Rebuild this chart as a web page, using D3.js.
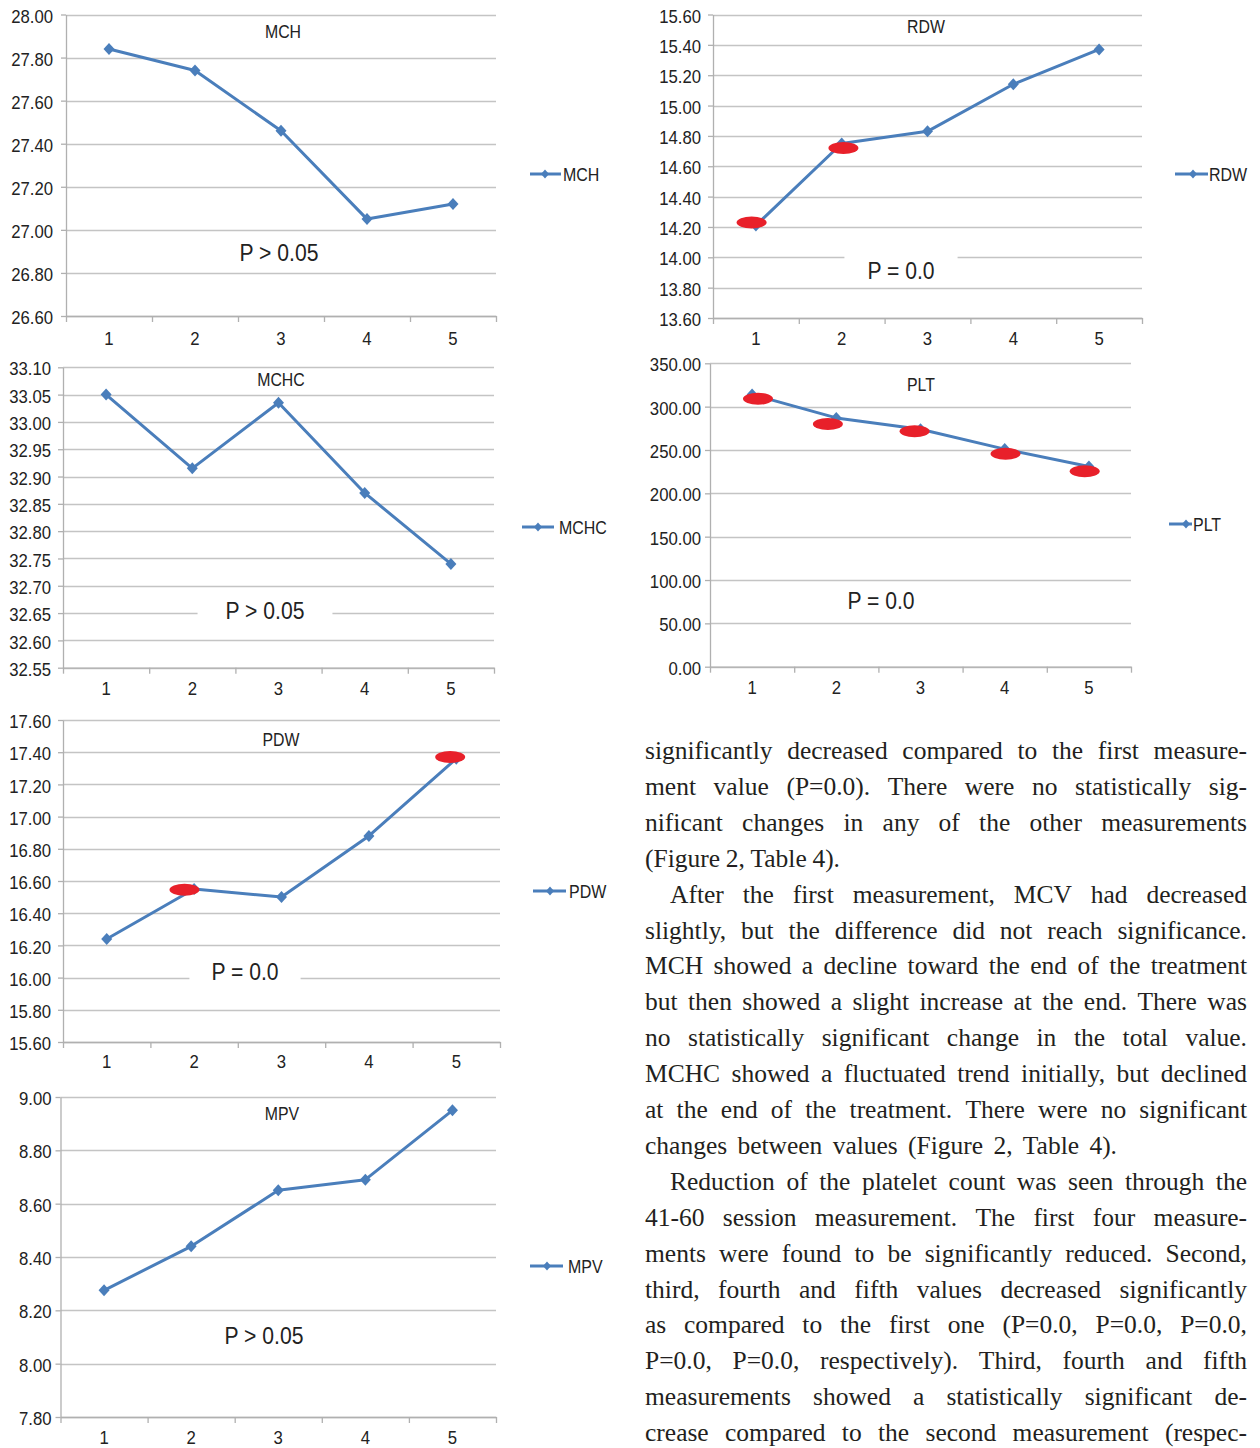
<!DOCTYPE html>
<html><head><meta charset="utf-8">
<script src="https://cdn.jsdelivr.net/npm/d3@7"></script>
<style>body{margin:0;background:#fff} svg{display:block}</style>
</head><body>
<svg id="fig" width="1260" height="1448"></svg>
<script>
// ---------- data ----------
const categories = [1, 2, 3, 4, 5];

const mchValues  = [27.84, 27.74, 27.46, 27.05, 27.12];
const mchTicks   = [26.6, 26.8, 27.0, 27.2, 27.4, 27.6, 27.8, 28.0];

const rdwValues  = [14.21, 14.75, 14.83, 15.14, 15.37];
const rdwTicks   = [13.6, 13.8, 14.0, 14.2, 14.4, 14.6, 14.8, 15.0, 15.2, 15.4, 15.6];
const rdwSigX    = [0.95, 2.02];
const rdwSigY    = [14.23, 14.72];

const mchcValues = [33.05, 32.915, 33.035, 32.87, 32.74];
const mchcTicks  = [32.55, 32.60, 32.65, 32.70, 32.75, 32.80, 32.85, 32.90, 32.95, 33.00, 33.05, 33.10];

const pltValues  = [314, 287, 274, 251, 231];
const pltTicks   = [0, 50, 100, 150, 200, 250, 300, 350];
const pltSigX    = [1.07, 1.90, 2.93, 4.01, 4.95];
const pltSigY    = [309, 280, 271.5, 245.7, 225.4];

const pdwValues  = [16.24, 16.55, 16.50, 16.88, 17.36];
const pdwTicks   = [15.6, 15.8, 16.0, 16.2, 16.4, 16.6, 16.8, 17.0, 17.2, 17.4, 17.6];
const pdwSigX    = [1.89, 4.93];
const pdwSigY    = [16.545, 17.37];

const mpvValues  = [8.275, 8.44, 8.65, 8.69, 8.95];
const mpvTicks   = [7.8, 8.0, 8.2, 8.4, 8.6, 8.8, 9.0];

const seriesNames = ["MCH", "RDW", "MCHC", "PLT", "PDW", "MPV"];
const pLabels     = ["P > 0.05", "P = 0.0", "P > 0.05", "P = 0.0", "P = 0.0", "P > 0.05"];

const textLines = [
  "significantly decreased compared to the first measure-",
  "ment value (P=0.0). There were no statistically sig-",
  "nificant changes in any of the other measurements",
  "(Figure 2, Table 4).",
  "After the first measurement, MCV had decreased",
  "slightly, but the difference did not reach significance.",
  "MCH showed a decline toward the end of the treatment",
  "but then showed a slight increase at the end. There was",
  "no statistically significant change in the total value.",
  "MCHC showed a fluctuated trend initially, but declined",
  "at the end of the treatment. There were no significant",
  "changes between values (Figure 2, Table 4).",
  "Reduction of the platelet count was seen through the",
  "41-60 session measurement. The first four measure-",
  "ments were found to be significantly reduced. Second,",
  "third, fourth and fifth values decreased significantly",
  "as compared to the first one (P=0.0, P=0.0, P=0.0,",
  "P=0.0, P=0.0, respectively). Third, fourth and fifth",
  "measurements showed a statistically significant de-",
  "crease compared to the second measurement (respec-"
];
const indentLines = [4, 12];
const lastLineEnds = {3: 840, 11: 1117};

// ---------- layout ----------
const panels = [
  {name: seriesNames[0], values: mchValues, ticks: mchTicks, sigX: [], sigY: [], p: pLabels[0],
   left: 66, right: 496, top: 14.5, bottom: 316, lblPad: 8, xLblY: 338,
   titleX: 283, titleY: 32, legX1: 530, legX2: 561, legD: 545, legTX: 563, legY: 174,
   pX: 279, pY: 252, pBox: false},
  {name: seriesNames[1], values: rdwValues, ticks: rdwTicks, sigX: rdwSigX, sigY: rdwSigY, p: pLabels[1],
   left: 713, right: 1142, top: 14.5, bottom: 318, lblPad: 7, xLblY: 338,
   titleX: 926, titleY: 27, legX1: 1175, legX2: 1208, legD: 1193, legTX: 1209, legY: 174,
   pX: 901, pY: 270, pBox: true, boxPad: 23},
  {name: seriesNames[2], values: mchcValues, ticks: mchcTicks, sigX: [], sigY: [], p: pLabels[2],
   left: 63, right: 494, top: 367.3, bottom: 667.7, lblPad: 7, xLblY: 688,
   titleX: 281, titleY: 380, legX1: 522, legX2: 554, legD: 538, legTX: 559, legY: 527,
   pX: 265, pY: 610, pBox: true, boxPad: 28},
  {name: seriesNames[3], values: pltValues, ticks: pltTicks, sigX: pltSigX, sigY: pltSigY, p: pLabels[3],
   left: 710, right: 1131, top: 363.3, bottom: 666.7, lblPad: 4, xLblY: 687,
   titleX: 921, titleY: 385, legX1: 1169, legX2: 1192, legD: 1186, legTX: 1193, legY: 524,
   pX: 881, pY: 600, pBox: false},
  {name: seriesNames[4], values: pdwValues, ticks: pdwTicks, sigX: pdwSigX, sigY: pdwSigY, p: pLabels[4],
   left: 63, right: 500, top: 720, bottom: 1042, lblPad: 7, xLblY: 1061,
   titleX: 281, titleY: 740, legX1: 533, legX2: 566, legD: 550, legTX: 569, legY: 891,
   pX: 245, pY: 971, pBox: true, boxPad: 22},
  {name: seriesNames[5], values: mpvValues, ticks: mpvTicks, sigX: [], sigY: [], p: pLabels[5],
   left: 60.5, right: 496, top: 1097, bottom: 1417, lblPad: 4, xLblY: 1437,
   titleX: 282, titleY: 1114, legX1: 530, legX2: 563, legD: 547, legTX: 568, legY: 1266,
   pX: 264, pY: 1335, pBox: false}
];

const BLUE = "#4a7ebb", GRID = "#c4c4c4", AXIS = "#b0b0b0", RED = "#e8202a", TXT = "#222";
const SANS = "'Liberation Sans',Arial,sans-serif";
const K = 0.88; // horizontal condensing of chart text

function condense(sel, k) {
  sel.each(function () {
    const n = this.getComputedTextLength();
    d3.select(this).attr("textLength", n * k).attr("lengthAdjust", "spacingAndGlyphs");
  });
}

const svg = d3.select("#fig");
svg.append("rect").attr("width", 1260).attr("height", 1448).attr("fill", "#fff");

const diamond = "M0,-6L5.5,0L0,6L-5.5,0Z";

panels.forEach(P => {
  const g = svg.append("g");
  const y = d3.scaleLinear().domain([P.ticks[0], P.ticks[P.ticks.length - 1]]).range([P.bottom, P.top]);
  const x = d3.scaleLinear().domain([0.5, 5.5]).range([P.left, P.right]);

  // gridlines
  g.append("g").selectAll("line").data(P.ticks).join("line")
    .attr("x1", P.left).attr("x2", P.right)
    .attr("y1", d => Math.round(y(d)) + 0.5).attr("y2", d => Math.round(y(d)) + 0.5)
    .attr("stroke", GRID).attr("stroke-width", 1.3);

  // y axis
  const ya = g.append("g").attr("transform", `translate(${P.left},0)`)
    .call(d3.axisLeft(y).tickValues(P.ticks).tickFormat(d3.format(".2f")).tickSize(5).tickSizeOuter(0).tickPadding(P.lblPad));
  ya.select(".domain").attr("stroke", AXIS).attr("stroke-width", 1.3);
  ya.selectAll(".tick line").attr("stroke", AXIS).attr("stroke-width", 1.3);
  ya.selectAll("text").attr("font-family", SANS).attr("font-size", 19).attr("fill", TXT).attr("dy", "0.4em")
    .call(condense, K);

  // x axis boundary ticks
  const xa = g.append("g").attr("transform", `translate(0,${P.bottom})`)
    .call(d3.axisBottom(x).tickValues([0.5, 1.5, 2.5, 3.5, 4.5, 5.5]).tickFormat("").tickSize(6).tickSizeOuter(0));
  xa.select(".domain").attr("stroke", AXIS).attr("stroke-width", 1.3);
  xa.selectAll(".tick line").attr("stroke", AXIS).attr("stroke-width", 1.3);

  // x labels
  g.append("g").selectAll("text").data(categories).join("text")
    .attr("x", d => x(d)).attr("y", P.xLblY).attr("dy", "0.36em")
    .attr("text-anchor", "middle").attr("font-family", SANS).attr("font-size", 19).attr("fill", TXT)
    .text(d => d).call(condense, K);

  // title
  g.append("text").attr("x", P.titleX).attr("y", P.titleY).attr("dy", "0.36em")
    .attr("text-anchor", "middle").attr("font-family", SANS).attr("font-size", 18).attr("fill", TXT)
    .text(P.name).call(condense, K);

  // P label
  const pt = g.append("text").attr("x", P.pX).attr("y", P.pY).attr("dy", "0.36em")
    .attr("text-anchor", "middle").attr("font-family", SANS).attr("font-size", 24).attr("fill", TXT)
    .text(P.p);
  const pw = pt.node().getComputedTextLength() * K;
  pt.call(condense, K);
  if (P.pBox) {
    g.insert("rect", () => pt.node())
      .attr("x", P.pX - pw / 2 - P.boxPad).attr("y", P.pY - 16).attr("width", pw + 2 * P.boxPad).attr("height", 32)
      .attr("fill", "#fff");
  }

  // line
  const line = d3.line().x((d, i) => x(categories[i])).y(d => y(d));
  g.append("path").datum(P.values).attr("d", line)
    .attr("fill", "none").attr("stroke", BLUE).attr("stroke-width", 3).attr("stroke-linejoin", "round");
  g.append("g").selectAll("path").data(P.values).join("path")
    .attr("d", diamond).attr("transform", (d, i) => `translate(${x(categories[i])},${y(d)})`)
    .attr("fill", BLUE);

  // significance marks
  g.append("g").selectAll("ellipse").data(P.sigX).join("ellipse")
    .attr("cx", d => x(d)).attr("cy", (d, i) => y(P.sigY[i]))
    .attr("rx", 15).attr("ry", 6).attr("fill", RED);

  // legend
  const lg = g.append("g");
  lg.append("line").attr("x1", P.legX1).attr("x2", P.legX2).attr("y1", P.legY).attr("y2", P.legY)
    .attr("stroke", BLUE).attr("stroke-width", 3);
  lg.append("path").attr("d", "M0,-4.5L4,0L0,4.5L-4,0Z").attr("transform", `translate(${P.legD},${P.legY})`).attr("fill", BLUE);
  lg.append("text").attr("x", P.legTX).attr("y", P.legY).attr("dy", "0.36em")
    .attr("font-family", SANS).attr("font-size", 19).attr("fill", TXT).text(P.name).call(condense, 0.84);
});

// ---------- body text ----------
const SERIF = "'Liberation Serif','DejaVu Serif',serif";
const tX0 = 645, tX1 = 1247, tBase0 = 759, tLH = 35.9, tFS = 25.5;
const measure = svg.append("text").attr("font-family", SERIF).attr("font-size", tFS).attr("x", -1000).attr("y", -1000);
function w(s) { measure.text(s); return measure.node().getComputedTextLength(); }
const tg = svg.append("g").attr("font-family", SERIF).attr("font-size", tFS).attr("fill", "#231f20");
textLines.forEach((ln, i) => {
  const words = ln.split(" ");
  const ws = words.map(w);
  const start = indentLines.includes(i) ? tX0 + 25 : tX0;
  const end = lastLineEnds[i] !== undefined ? lastLineEnds[i] : tX1;
  const total = d3.sum(ws);
  const gap = words.length > 1 ? (end - start - total) / (words.length - 1) : 0;
  let cx = start;
  const t = tg.append("text").attr("y", tBase0 + i * tLH);
  words.forEach((wd, j) => {
    t.append("tspan").attr("x", cx).text(wd);
    cx += ws[j] + gap;
  });
});
measure.remove();
</script>
</body></html>
